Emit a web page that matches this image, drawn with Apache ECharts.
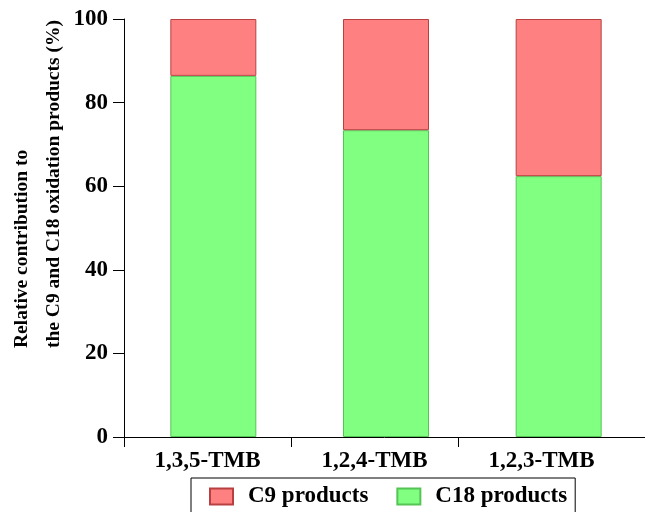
<!DOCTYPE html>
<html>
<head>
<meta charset="utf-8">
<script src="https://cdn.jsdelivr.net/npm/echarts@6/dist/echarts.min.js"></script>
<style>
  html, body { margin: 0; padding: 0; background: #fff; }
  #main { width: 645px; height: 512px; }
</style>
</head>
<body>
<div id="main"></div>
<script>
// 数据
var categories = ['1,3,5-TMB', '1,2,4-TMB', '1,2,3-TMB'];
var c18Values = [86.4, 73.4, 62.4];
var c9Values = [13.6, 26.6, 37.6];
var yTicks = [0, 20, 40, 60, 80, 100];

var font = "'Liberation Serif', 'Times New Roman', serif";
var chart = echarts.init(document.getElementById('main'));

var option = {
  animation: false,
  grid: [
    // 柱子
    { left: 127, width: 522, top: 19, bottom: 75 },
    // 类目标签
    { left: 124, width: 501, top: 19, bottom: 75 },
    // 坐标轴线 + y轴
    { left: 124, right: 0, top: 19, bottom: 75 },
    // x轴刻度（只有三个）
    { left: 124, width: 334, top: 19, bottom: 75 }
  ],
  legend: {
    data: ['C9 products', 'C18 products'],
    left: 191,
    top: 478,
    itemWidth: 23,
    itemHeight: 16,
    itemGap: 28,
    icon: 'rect',
    borderColor: '#000',
    borderWidth: 1,
    borderRadius: 0,
    padding: [7, 8, 6, 18],
    textStyle: {
      fontFamily: font,
      fontWeight: 'bold',
      fontSize: 23,
      color: '#000',
      padding: [0, 0, 0, 10]
    }
  },
  xAxis: [
    {
      gridIndex: 0, type: 'category', data: categories,
      axisLine: { show: false }, axisTick: { show: false }, axisLabel: { show: false }
    },
    {
      gridIndex: 1, type: 'category', data: categories,
      axisLine: { show: false },
      axisTick: { show: false },
      axisLabel: {
        margin: 13,
        fontFamily: font, fontWeight: 'bold', fontSize: 23, color: '#000'
      }
    },
    {
      gridIndex: 2, type: 'category', data: [''],
      axisLine: { show: true, lineStyle: { color: '#000', width: 1 } },
      axisTick: { show: false }, axisLabel: { show: false }
    },
    {
      gridIndex: 3, type: 'category', data: categories.slice(0, 2),
      axisLine: { show: false },
      axisTick: { show: true, length: 10, lineStyle: { color: '#000' } },
      axisLabel: { show: false }
    }
  ],
  yAxis: [
    { gridIndex: 0, type: 'value', min: 0, max: 100, show: false },
    { gridIndex: 1, type: 'value', min: 0, max: 100, show: false },
    {
      gridIndex: 2, type: 'value', min: 0, max: 100, interval: 20,
      splitLine: { show: false },
      axisLine: { show: true, lineStyle: { color: '#000', width: 1 } },
      axisTick: { show: true, length: 11, lineStyle: { color: '#000' } },
      axisLabel: {
        margin: 16,
        fontFamily: font, fontWeight: 'bold', fontSize: 23, color: '#000',
        formatter: function (v) { return yTicks.indexOf(v) >= 0 ? String(v) : ''; }
      }
    },
    { gridIndex: 3, type: 'value', min: 0, max: 100, show: false }
  ],
  graphic: [{
    type: 'text',
    x: 38,
    y: 348,
    rotation: Math.PI / 2,
    style: {
      text: 'Relative contribution to\nthe C9 and C18 oxidation products (%)',
      fontFamily: font,
      fontWeight: 'bold',
      fontSize: 19.5,
      lineHeight: 32,
      fill: '#000',
      textAlign: 'left',
      textVerticalAlign: 'middle'
    }
  }],
  series: [
    {
      name: 'C18 products',
      type: 'bar',
      stack: 'total',
      xAxisIndex: 0,
      yAxisIndex: 0,
      barWidth: 86,
      data: c18Values,
      itemStyle: { color: '#80FF80', borderColor: '#55c455', borderWidth: 1 }
    },
    {
      name: 'C9 products',
      type: 'bar',
      stack: 'total',
      xAxisIndex: 0,
      yAxisIndex: 0,
      barWidth: 86,
      data: c9Values,
      itemStyle: { color: '#FF8080', borderColor: '#b84040', borderWidth: 1 }
    }
  ]
};
chart.setOption(option);
</script>
</body>
</html>
